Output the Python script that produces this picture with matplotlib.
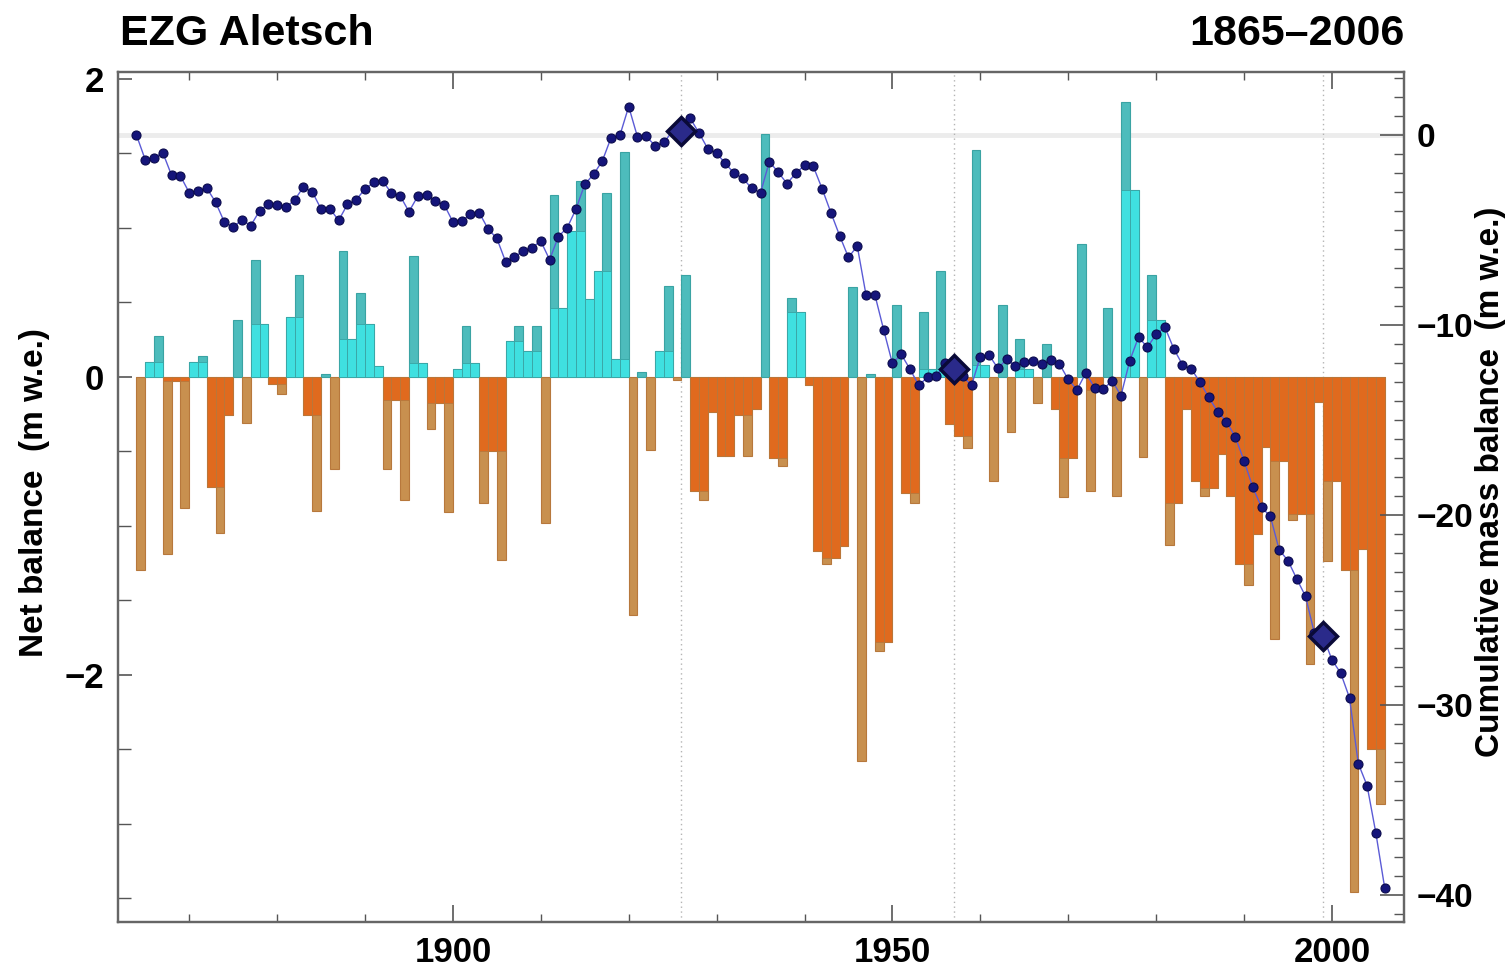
import numpy as np
import matplotlib
matplotlib.use("Agg")
import matplotlib.pyplot as plt
import matplotlib.transforms as mtransforms
from matplotlib.ticker import FixedLocator, MultipleLocator

plt.rcParams["font.family"] = ["Liberation Sans", "DejaVu Sans"]
plt.rcParams["font.weight"] = "bold"

# annual net balance of the Aletsch catchment (m w.e.), hydrological years
years = np.arange(1865, 2007)

net_1865_1899 = [
    -1.30, 0.10, 0.27, -1.19, -0.03, -0.88, 0.10, 0.14, -0.74, -1.05,
    -0.26, 0.38, -0.31, 0.78, 0.35, -0.05, -0.12, 0.40, 0.68, -0.26,
    -0.90, 0.02, -0.62, 0.84, 0.25, 0.56, 0.35, 0.07, -0.62, -0.16,
    -0.83, 0.81, 0.09, -0.35, -0.18,
]
net_1900_1935 = [
    -0.91, 0.05, 0.34, 0.09, -0.85, -0.50, -1.23, 0.24, 0.34, 0.17,
    0.34, -0.98, 1.22, 0.46, 0.98, 1.31, 0.52, 0.71, 1.23, 0.12,
    1.51, -1.60, 0.03, -0.49, 0.17, 0.61, -0.02, 0.68, -0.77, -0.83,
    -0.24, -0.53, -0.53, -0.26, -0.53, -0.22,
]
net_1936_1972 = [
    1.63, -0.55, -0.60, 0.53, 0.43, -0.06, -1.17, -1.26, -1.22, -1.14,
    0.60, -2.58, 0.02, -1.84, -1.78, 0.48, -0.78, -0.85, 0.43, 0.05,
    0.71, -0.32, -0.40, -0.48, 1.52, 0.08, -0.70, 0.48, -0.37, 0.25,
    0.05, -0.18, 0.22, -0.22, -0.81, -0.55, 0.89,
]
net_1973_2006 = [
    -0.77, -0.09, 0.46, -0.80, 1.84, 1.25, -0.54, 0.68, 0.38, -1.13,
    -0.85, -0.22, -0.70, -0.80, -0.75, -0.52, -0.80, -1.26, -1.40, -1.06,
    -0.47, -1.76, -0.57, -0.96, -0.92, -1.93, -0.17, -1.24, -0.70, -1.30,
    -3.46, -1.16, -2.50, -2.87,
]
net = np.array(net_1865_1899 + net_1900_1935 + net_1936_1972 + net_1973_2006)

# years with a geodetic survey, marked on the cumulative curve
survey_years = [1926, 1957, 1999]

# cumulative curve starts at zero before the first year
cum_years = np.r_[years[0] - 1, years]
cum = np.r_[0.0, np.cumsum(net)]

# part of each bar that is also covered by a same-sign neighbour
prev = np.r_[0.0, net[:-1]]
nxt = np.r_[net[1:], 0.0]


def shared(a, b):
    same = np.sign(a) == np.sign(b)
    return np.where(same, np.minimum(np.abs(a), np.abs(b)), 0.0)


core = np.maximum(shared(net, prev), shared(net, nxt)) * np.sign(net)

pos = net > 0
pale = np.where(pos, "#4dbcbc", "#c8904f")
strong = np.where(pos, "#3fe0e0", "#e06a1e")
edges = np.where(pos, "#3aa3a3", "#b7783c")

W, H = 1510, 968
fig = plt.figure(figsize=(W / 100, H / 100), dpi=100)
ax = fig.add_axes([118 / W, 1 - 922 / H, (1404 - 118) / W, (922 - 72) / H])
ax2 = ax.twinx()

# faint reference line at zero cumulative balance
band = mtransforms.blended_transform_factory(ax.transAxes, ax2.transData)
ax.plot([0, 1], [0, 0], transform=band, color="#ececec", lw=3.5, zorder=0.3)

for yr in survey_years:
    ax.axvline(yr, color="#b4b4b4", lw=1.0, ls=(0, (1, 2.5)), zorder=0.5)

ax.bar(years - 0.5, net, width=1.0, color=pale, edgecolor=edges, linewidth=0.8, zorder=1)
ax.bar(years - 0.5, core, width=1.0, color=strong, edgecolor=edges, linewidth=0.6, zorder=1.1)

ax2.plot(cum_years, cum, color="#5b5bd6", lw=1.0, zorder=3)
ax2.plot(cum_years, cum, "o", ms=6.5, mfc="#15157a", mec="#0b0b4d", mew=0.8, zorder=4)
idx = [list(cum_years).index(y) for y in survey_years]
ax2.plot(cum_years[idx], cum[idx], "D", ms=14, mfc="#2a2a8a", mec="#0a0a38",
         mew=2.5, zorder=5)

ax.set_xlim(1861.9, 2008.2)
ax.set_ylim(-3.661, 2.044)
ax2.set_ylim(-41.42, 3.32)

ax.xaxis.set_major_locator(FixedLocator([1900, 1950, 2000]))
ax.xaxis.set_minor_locator(MultipleLocator(10))
ax.yaxis.set_major_locator(FixedLocator([-2, 0, 2]))
ax.yaxis.set_minor_locator(MultipleLocator(0.5))
ax2.yaxis.set_major_locator(MultipleLocator(10))
ax2.yaxis.set_minor_locator(MultipleLocator(1))

ax.tick_params(axis="x", which="both", direction="in", top=True, bottom=True,
               labelsize=25, pad=10, color="#555555")
ax.tick_params(axis="x", which="major", length=12, width=1.2)
ax.tick_params(axis="x", which="minor", length=6, width=1.0)
ax.tick_params(axis="y", which="both", direction="in", left=True, right=False,
               labelsize=25, pad=10, color="#555555")
ax.tick_params(axis="y", which="major", length=10, width=1.2)
ax.tick_params(axis="y", which="minor", length=9, width=1.0)
ax2.tick_params(axis="y", which="both", direction="in", right=True, left=False,
                labelsize=24, pad=9, color="#555555")
ax2.tick_params(axis="y", which="major", length=17, width=1.2)
ax2.tick_params(axis="y", which="minor", length=7, width=1.0)

for a in (ax, ax2):
    for s in a.spines.values():
        s.set_color("#666666")
        s.set_linewidth(1.6)

fig.text(120 / W, 1 - 45 / H, "EZG Aletsch", fontsize=31, fontweight="bold",
         ha="left", va="baseline")
fig.text(1404 / W, 1 - 45 / H, "1865–2006", fontsize=31, fontweight="bold",
         ha="right", va="baseline")
fig.text(35 / W, 1 - 493 / H, "Net balance  (m w.e.)", fontsize=24,
         fontweight="bold", rotation=90, ha="center", va="center")
fig.text(1490 / W, 1 - 482 / H, "Cumulative mass balance  (m w.e.)", fontsize=24,
         fontweight="bold", rotation=90, ha="center", va="center")

fig.savefig("out.png", dpi=100)
